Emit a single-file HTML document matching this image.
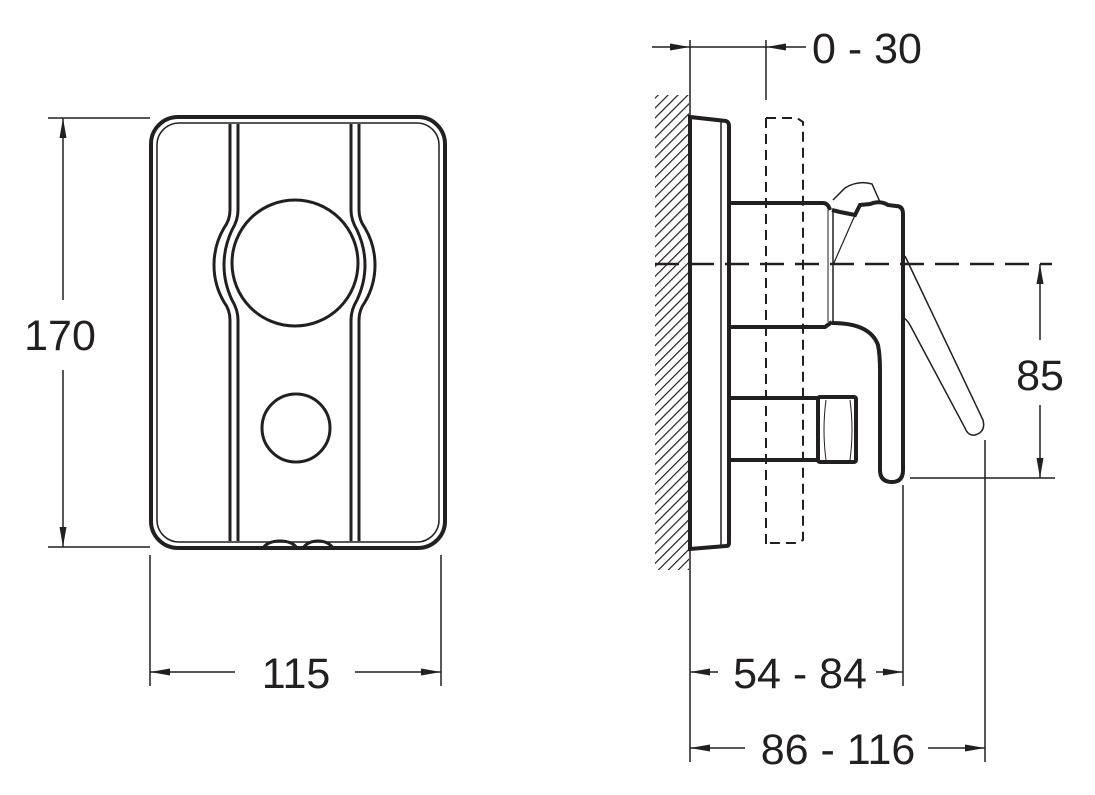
<!DOCTYPE html>
<html><head><style>
html,body{margin:0;padding:0;background:#fff;}
svg{display:block;}
text{font-family:"Liberation Sans",Arial,sans-serif;font-size:43px;fill:#231f20;}
</style></head><body>
<svg width="1095" height="795" viewBox="0 0 1095 795" xmlns="http://www.w3.org/2000/svg">
<defs>
<marker id="a" viewBox="0 0 20 10" refX="20" refY="5" markerWidth="20" markerHeight="10" markerUnits="userSpaceOnUse" orient="auto-start-reverse">
<path d="M0,1.5 L20,5 L0,8.5 Z" fill="#231f20"/></marker>
<pattern id="h" width="7" height="7" patternUnits="userSpaceOnUse" patternTransform="rotate(45)">
<line x1="0" y1="0" x2="0" y2="7" stroke="#231f20" stroke-width="2.4"/></pattern>
</defs>
<g stroke="#231f20" fill="none">
<!-- FRONT VIEW -->
<rect x="151" y="117" width="294" height="431" rx="27" stroke-width="4"/>
<rect x="157" y="123" width="282" height="419" rx="22" stroke-width="1.5"/>
<g stroke-width="3">
<path d="M230,124 V210 Q230,220 224,228 Q214,245 214,265 Q214,285 224,302 Q230,310 230,320 V541"/>
<path d="M238,124 V210 Q238,220 232,230 Q224,247 224,265 Q224,283 232,300 Q238,310 238,320 V541"/>
<path d="M359,124 V210 Q359,220 365,228 Q375,245 375,265 Q375,285 365,302 Q359,310 359,320 V541"/>
<path d="M351,124 V210 Q351,220 357,230 Q365,247 365,265 Q365,283 357,300 Q351,310 351,320 V541"/>
</g>
<circle cx="295" cy="263" r="63" stroke-width="3"/>
<circle cx="296" cy="428" r="34" stroke-width="3"/>
<path d="M263,548 Q268,541 280,541 Q292,541 297,548 M303,548 Q308,541 318,541 Q328,541 333,548" stroke-width="3"/>
<g stroke-width="1.5">
<line x1="48" y1="118" x2="150" y2="118"/>
<line x1="48" y1="547" x2="150" y2="547"/>
<line x1="63" y1="300" x2="63" y2="118" marker-end="url(#a)"/>
<line x1="63" y1="370" x2="63" y2="547" marker-end="url(#a)"/>
<line x1="150" y1="555" x2="150" y2="686"/>
<line x1="441" y1="555" x2="441" y2="686"/>
<line x1="235" y1="672" x2="150" y2="672" marker-end="url(#a)"/>
<line x1="355" y1="672" x2="441" y2="672" marker-end="url(#a)"/>
</g>
<!-- SIDE VIEW -->
<rect x="655" y="95" width="34" height="475" fill="url(#h)" stroke="none"/>
<g stroke-width="1.5">
<line x1="690" y1="40" x2="690" y2="762"/>
<line x1="766" y1="40" x2="766" y2="100"/>
<line x1="652" y1="47" x2="690" y2="47" marker-end="url(#a)"/>
<line x1="690" y1="47" x2="766" y2="47"/>
<line x1="806" y1="47" x2="766" y2="47" marker-end="url(#a)"/>
</g>
<path d="M690,117 L726,121 Q729,122 729,126 V543 Q729,546 726,546 L690,549 Z" stroke-width="4" fill="#fff"/>
<line x1="721" y1="122" x2="721" y2="545" stroke-width="1.5"/>
<g stroke-width="2" stroke-dasharray="10,6">
<line x1="766" y1="118" x2="766" y2="545"/>
<path d="M766,118 H797 L803,122 V540 L797,543 H766"/>
</g>
<path d="M729,203 H823 Q828,203 830,210 M729,327 H825 L832,322 M729,398 H818 M729,460 H818" stroke-width="4"/>
<line x1="729" y1="203" x2="729" y2="460" stroke-width="4"/>
<line x1="828" y1="210" x2="828" y2="322" stroke-width="1"/>
<line x1="833" y1="210" x2="833" y2="322" stroke-width="1.5"/>
<rect x="818" y="397" width="38" height="65" rx="2" stroke-width="4"/>
<path d="M826,400 Q822,430 826,460 M850,400 Q854,430 850,460" stroke-width="1"/>
<path d="M832,323 Q870,323 878,345 Q880,355 880,370 V470 Q880,482 892,482 Q903,482 903,470 V214 Q903,206 896,206 L888,205 Q880,200 870,204 L860,205 L855,215 L840,212 L832,210" stroke-width="4"/>
<path d="M833,200 L845,188 Q858,180 872,184 L880,202" stroke-width="1.5"/>
<line x1="855" y1="215" x2="833" y2="265" stroke-width="1.2"/>
<path d="M905,256 L983,420 Q986,432 975,435 Q968,436 965,428 L910,325 Q907,320 904,318" stroke-width="1.5"/>
<line x1="655" y1="264" x2="1052" y2="264" stroke-width="2.5" stroke-dasharray="24,11"/>
<g stroke-width="1.5">
<line x1="910" y1="478" x2="1055" y2="478"/>
<line x1="1040" y1="340" x2="1040" y2="264" marker-end="url(#a)"/>
<line x1="1040" y1="405" x2="1040" y2="478" marker-end="url(#a)"/>
<line x1="903" y1="485" x2="903" y2="686"/>
<line x1="985" y1="440" x2="985" y2="762"/>
<line x1="718" y1="672" x2="690" y2="672" marker-end="url(#a)"/>
<line x1="876" y1="672" x2="903" y2="672" marker-end="url(#a)"/>
<line x1="745" y1="748" x2="690" y2="748" marker-end="url(#a)"/>
<line x1="928" y1="748" x2="985" y2="748" marker-end="url(#a)"/>
</g>
</g>
<text x="60" y="350" text-anchor="middle">170</text>
<text x="296" y="688" text-anchor="middle">115</text>
<text x="812" y="63">0 - 30</text>
<text x="1040" y="390" text-anchor="middle">85</text>
<text x="800" y="688" text-anchor="middle">54 - 84</text>
<text x="838" y="764" text-anchor="middle">86 - 116</text>
</svg>
</body></html>
